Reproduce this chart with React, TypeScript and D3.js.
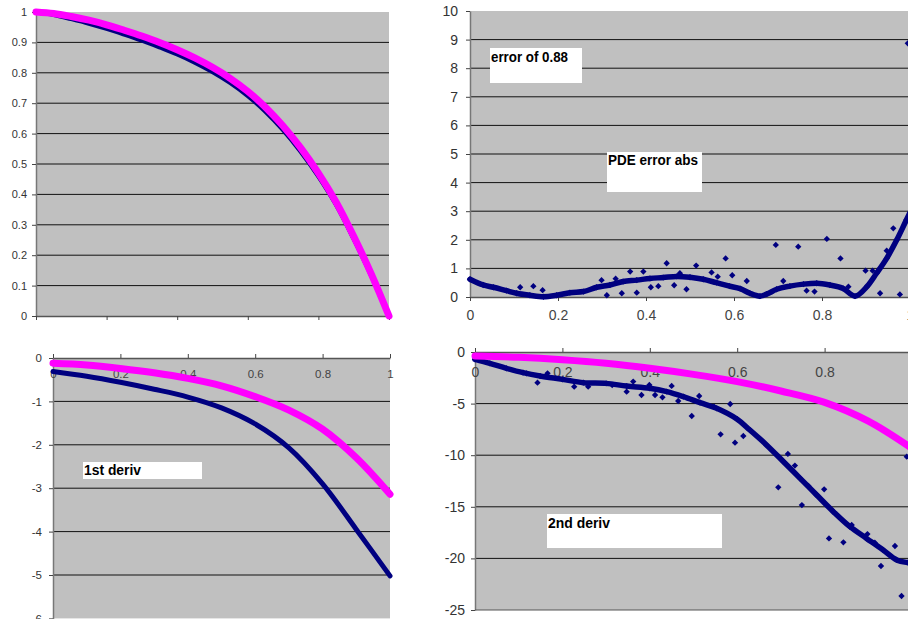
import React, { useRef, useEffect } from 'react';
import * as d3 from 'd3';

// top left: the function
const fnX = [0, 0.05, 0.1, 0.15, 0.2, 0.25, 0.3, 0.35, 0.4, 0.45, 0.5, 0.55, 0.6, 0.65, 0.7, 0.75, 0.8, 0.85, 0.9, 0.95, 1];
const fnExact = [1, 0.995, 0.985, 0.973, 0.958, 0.94, 0.921, 0.9, 0.876, 0.849, 0.818, 0.782, 0.739, 0.687, 0.625, 0.553, 0.47, 0.375, 0.262, 0.138, 0];
const fnApprox = [1, 0.992, 0.978, 0.963, 0.946, 0.927, 0.907, 0.885, 0.862, 0.835, 0.804, 0.768, 0.725, 0.674, 0.613, 0.542, 0.461, 0.368, 0.256, 0.134, 0];
const fnYTicks = [0, 0.1, 0.2, 0.3, 0.4, 0.5, 0.6, 0.7, 0.8, 0.9, 1];
const xTicks = [0, 0.2, 0.4, 0.6, 0.8, 1];

// top right: PDE error abs
const errX = [0, 0.03, 0.053, 0.083, 0.106, 0.136, 0.167, 0.197, 0.227, 0.258, 0.288, 0.318, 0.348, 0.379, 0.409, 0.439, 0.47, 0.5, 0.53, 0.56, 0.59, 0.614, 0.636, 0.659, 0.674, 0.697, 0.727, 0.758, 0.788, 0.818, 0.848, 0.875, 0.902, 0.924, 0.947, 0.97, 0.992, 1];
const errY = [0.62, 0.42, 0.34, 0.22, 0.13, 0.06, 0.01, 0.06, 0.15, 0.19, 0.34, 0.42, 0.54, 0.59, 0.65, 0.68, 0.72, 0.69, 0.62, 0.5, 0.38, 0.29, 0.13, 0.03, 0.1, 0.27, 0.38, 0.45, 0.48, 0.42, 0.3, 0.03, 0.36, 0.83, 1.35, 2.0, 2.7, 2.95];
const errOutX = [0.114, 0.144, 0.165, 0.299, 0.311, 0.331, 0.345, 0.364, 0.379, 0.394, 0.411, 0.428, 0.447, 0.464, 0.477, 0.492, 0.514, 0.549, 0.563, 0.581, 0.596, 0.629, 0.695, 0.712, 0.746, 0.765, 0.783, 0.811, 0.842, 0.86, 0.899, 0.915, 0.932, 0.947, 0.962, 0.977, 0.995];
const errOutY = [0.34, 0.38, 0.24, 0.59, 0.06, 0.64, 0.13, 0.89, 0.15, 0.89, 0.34, 0.38, 1.18, 0.41, 0.83, 0.27, 1.1, 0.86, 0.71, 1.35, 0.76, 0.56, 1.82, 0.56, 1.76, 0.22, 0.19, 2.03, 1.35, 0.36, 0.92, 0.92, 0.13, 1.62, 2.4, 0.09, 8.87];
const errYTicks = [0, 1, 2, 3, 4, 5, 6, 7, 8, 9, 10];

// bottom left: 1st deriv
const d1X = [0, 0.1, 0.2, 0.3, 0.4, 0.5, 0.6, 0.7, 0.8, 0.9, 1];
const d1Exact = [-0.12, -0.16, -0.24, -0.34, -0.47, -0.64, -0.89, -1.2, -1.64, -2.3, -3.14];
const d1Approx = [-0.31, -0.42, -0.56, -0.72, -0.9, -1.15, -1.52, -2.07, -2.9, -3.95, -5.02];
const d1YTicks = [0, -1, -2, -3, -4, -5, -6];

// bottom right: 2nd deriv
const d2X = [0, 0.1, 0.2, 0.3, 0.4, 0.5, 0.6, 0.7, 0.8, 0.9, 1];
const d2Exact = [-0.39, -0.52, -0.76, -1.1, -1.58, -2.17, -2.87, -3.78, -4.88, -6.7, -9.35];
const d2ApproxX = [0, 0.034, 0.072, 0.11, 0.149, 0.2, 0.248, 0.3, 0.347, 0.4, 0.439, 0.477, 0.515, 0.553, 0.6, 0.629, 0.667, 0.706, 0.744, 0.782, 0.82, 0.858, 0.896, 0.934, 0.965, 0.991, 1];
const d2ApproxY = [-0.71, -1.1, -1.58, -2.0, -2.33, -2.65, -2.97, -3.04, -3.3, -3.52, -3.84, -4.33, -4.91, -5.46, -6.52, -7.56, -9.0, -10.63, -12.24, -13.86, -15.47, -16.93, -18.06, -19.19, -20.15, -20.41, -20.45];
const d2OutX = [0.118, 0.143, 0.166, 0.227, 0.259, 0.314, 0.347, 0.362, 0.381, 0.399, 0.412, 0.429, 0.45, 0.465, 0.496, 0.513, 0.547, 0.562, 0.584, 0.595, 0.614, 0.694, 0.716, 0.732, 0.748, 0.763, 0.78, 0.799, 0.81, 0.843, 0.862, 0.898, 0.915, 0.929, 0.961, 0.976, 0.988];
const d2OutY = [-2.07, -2.97, -2.07, -3.36, -3.36, -3.2, -3.84, -2.87, -4.17, -3.2, -4.17, -4.39, -3.29, -4.75, -6.2, -4.26, -5.3, -7.98, -5.04, -8.79, -8.14, -13.11, -9.88, -11.01, -14.83, -12.98, -13.79, -13.31, -18.06, -18.44, -16.76, -17.64, -18.48, -20.74, -18.8, -23.64, -10.14];
const d2YTicks = [0, -5, -10, -15, -20, -25];

const GRAY = '#c0c0c0';
const PINK = '#ff00ff';
const NAVY = '#000080';
const FONT = 'Liberation Sans, Arial, sans-serif';

function panel(svg, p) {
  const x = d3.scaleLinear().domain([0, 1]).range([p.left, p.right]);
  const y = d3.scaleLinear().domain(p.yDomain).range([p.bottom, p.top]);
  const g = svg.append('g');

  g.append('rect')
    .attr('x', p.left).attr('y', p.top)
    .attr('width', p.right - p.left).attr('height', p.bottom - p.top)
    .attr('fill', GRAY);

  g.append('g').selectAll('line').data(p.grid).join('line')
    .attr('x1', p.left).attr('x2', p.right)
    .attr('y1', d => y(d)).attr('y2', d => y(d))
    .attr('stroke', '#111').attr('stroke-width', 1);

  const yAxis = g.append('g')
    .attr('transform', `translate(${p.left},0)`)
    .call(d3.axisLeft(y).tickValues(p.yTicks).tickSize(4).tickSizeOuter(0)
      .tickPadding(p.yPad).tickFormat(d => String(d)));
  yAxis.selectAll('text').attr('font-size', p.yFont).attr('fill', '#333').attr('font-family', FONT);
  yAxis.select('.domain').attr('stroke', '#777').attr('stroke-width', 1.5);
  yAxis.selectAll('.tick line').attr('stroke', '#444');

  // x axis: ticks outside, labels below / inside
  const xTickAxis = g.append('g')
    .attr('transform', `translate(0,${p.xAxisAt})`)
    .call((p.xTicksUp ? d3.axisTop(x) : d3.axisBottom(x)).tickValues(xTicks).tickSize(4).tickSizeOuter(0).tickFormat(() => ''));
  xTickAxis.select('.domain').attr('stroke', '#555').attr('stroke-width', 1.5);
  xTickAxis.selectAll('.tick line').attr('stroke', '#444');

  if (p.xLabels) {
    const xl = g.append('g')
      .attr('transform', `translate(0,${p.xAxisAt})`)
      .call(d3.axisBottom(x).tickValues(xTicks).tickSize(0).tickPadding(p.xPad).tickFormat(d => String(d)));
    xl.select('.domain').remove();
    xl.selectAll('text').attr('font-size', p.xFont).attr('fill', '#444').attr('font-family', FONT);
  }
  return { x, y, g };
}

function curve(g, x, y, xs, ys, color, width, shape) {
  const line = d3.line()
    .x(d => x(d[0]))
    .y(d => y(d[1]))
    .curve(shape || d3.curveCatmullRom.alpha(0.5));
  g.append('path')
    .datum(d3.zip(xs, ys))
    .attr('d', line)
    .attr('fill', 'none')
    .attr('stroke', color)
    .attr('stroke-width', width)
    .attr('stroke-linecap', 'round')
    .attr('stroke-linejoin', 'round');
}

function diamonds(g, x, y, xs, ys, size) {
  g.append('g').selectAll('path').data(d3.zip(xs, ys)).join('path')
    .attr('d', d3.symbol(d3.symbolSquare, size))
    .attr('transform', d => `translate(${x(d[0])},${y(d[1])}) rotate(45)`)
    .attr('fill', NAVY);
}

function note(svg, box, label, textLen) {
  svg.append('rect')
    .attr('x', box[0]).attr('y', box[1]).attr('width', box[2]).attr('height', box[3])
    .attr('fill', '#fff');
  svg.append('text')
    .attr('x', box[0] + 1).attr('y', box[4])
    .attr('font-family', FONT).attr('font-weight', 'bold').attr('font-size', 14)
    .attr('textLength', textLen).attr('lengthAdjust', 'spacingAndGlyphs')
    .attr('fill', '#000')
    .text(label);
}

export default function App() {
  const svgRef = useRef(null);

  useEffect(() => {
    const svg = d3.select(svgRef.current);
    svg.selectAll('*').remove();
    svg.append('rect').attr('width', 908).attr('height', 619).attr('fill', '#fff');

    // top left
    const a = panel(svg, {
      left: 36, right: 389, top: 12, bottom: 316, yDomain: [0, 1],
      grid: fnYTicks.slice(1, -1), yTicks: fnYTicks, yPad: 5, yFont: 11,
      xAxisAt: 316, xTicksUp: false, xLabels: false
    });
    curve(a.g, a.x, a.y, fnX, fnApprox, NAVY, 5);
    curve(a.g, a.x, a.y, fnX, fnExact, PINK, 7);

    // top right
    const b = panel(svg, {
      left: 470, right: 910, top: 11, bottom: 297, yDomain: [0, 10],
      grid: errYTicks.slice(1, -1), yTicks: errYTicks, yPad: 8, yFont: 14,
      xAxisAt: 297, xTicksUp: false, xLabels: true, xPad: 13, xFont: 14
    });
    curve(b.g, b.x, b.y, errX, errY, NAVY, 5.5, d3.curveMonotoneX);
    diamonds(b.g, b.x, b.y, errX, errY, 20);
    diamonds(b.g, b.x, b.y, errOutX, errOutY, 20);
    note(svg, [490, 48, 92, 35, 61.5], 'error of 0.88', 77);
    note(svg, [607, 152, 95, 40, 165], 'PDE error abs', 90);

    // bottom left
    const c = panel(svg, {
      left: 53, right: 390, top: 358, bottom: 618.4, yDomain: [-6, 0],
      grid: d1YTicks.slice(1, -1), yTicks: d1YTicks, yPad: 7, yFont: 11.5,
      xAxisAt: 358, xTicksUp: true, xLabels: true, xPad: 12, xFont: 11.5
    });
    curve(c.g, c.x, c.y, d1X, d1Approx, NAVY, 5);
    curve(c.g, c.x, c.y, d1X, d1Exact, PINK, 7);
    note(svg, [83, 462, 119, 17, 475], '1st deriv', 57);

    // bottom right
    const e = panel(svg, {
      left: 475, right: 912, top: 352, bottom: 610, yDomain: [-25, 0],
      grid: d2YTicks.slice(1, -1), yTicks: d2YTicks, yPad: 6, yFont: 14,
      xAxisAt: 352, xTicksUp: true, xLabels: true, xPad: 15, xFont: 14
    });
    curve(e.g, e.x, e.y, d2ApproxX, d2ApproxY, NAVY, 5.5);
    diamonds(e.g, e.x, e.y, d2ApproxX, d2ApproxY, 20);
    diamonds(e.g, e.x, e.y, d2OutX, d2OutY, 20);
    curve(e.g, e.x, e.y, d2X, d2Exact, PINK, 7);
    e.g.append('line')
      .attr('x1', 475).attr('x2', 912).attr('y1', 610).attr('y2', 610)
      .attr('stroke', '#555');
    note(svg, [547, 514, 175, 34, 527.5], '2nd deriv', 62);
  }, []);

  return (
    <div style={{ position: 'absolute', left: 0, top: 0 }}>
      <svg ref={svgRef} width={908} height={619} style={{ display: 'block' }}></svg>
    </div>
  );
}
